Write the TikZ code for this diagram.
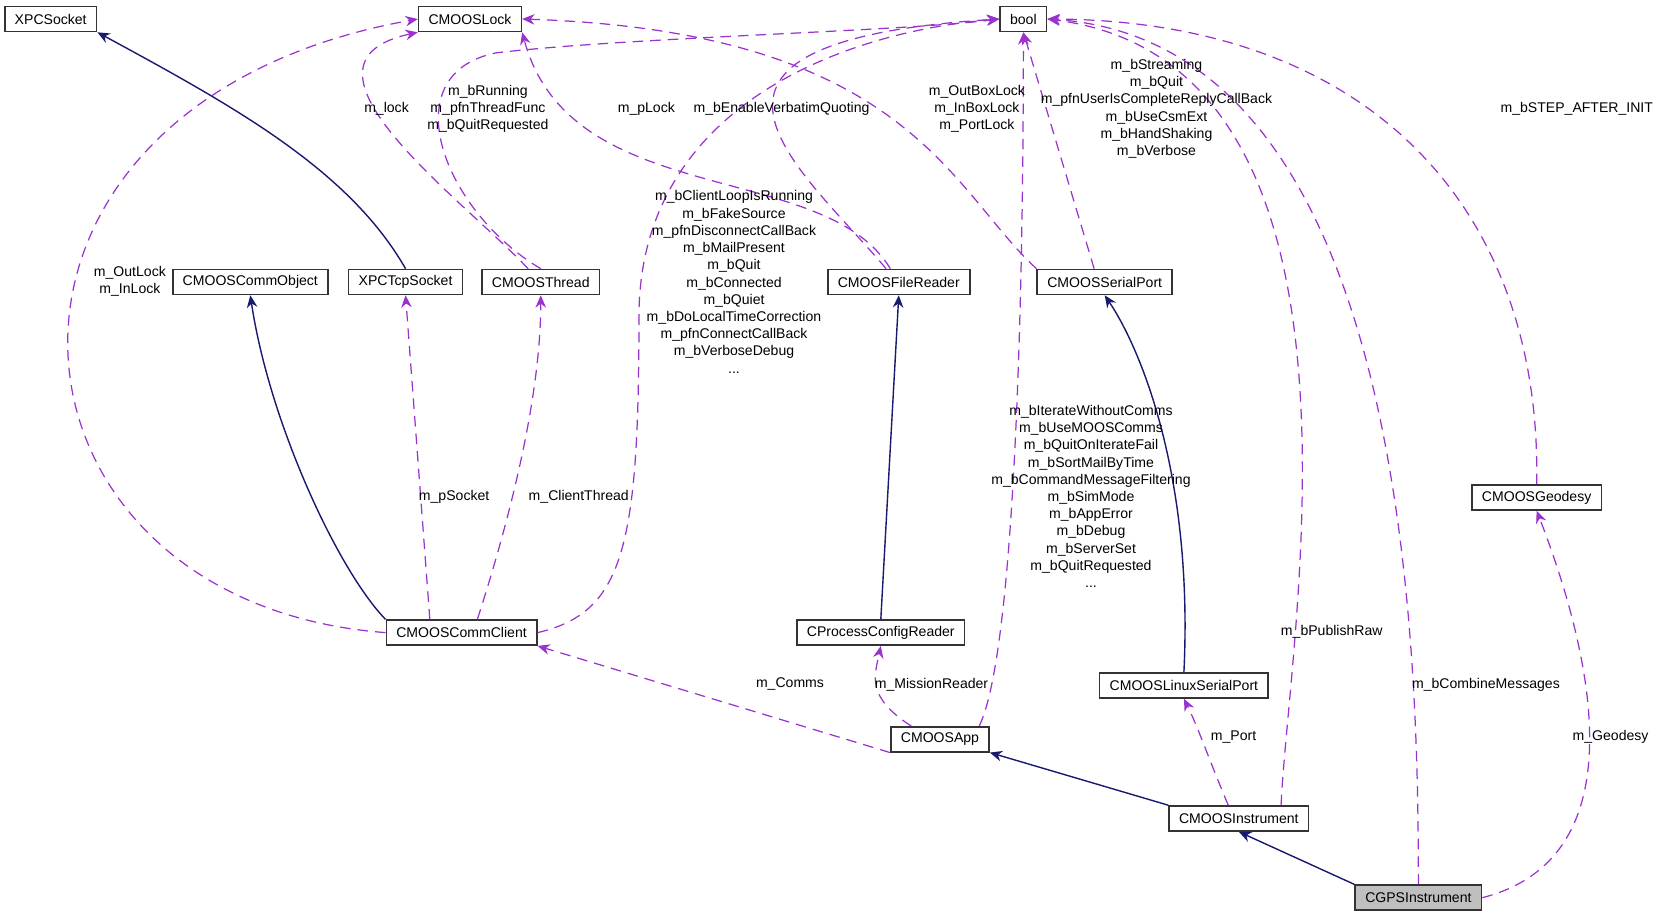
\documentclass[tikz,border=0pt]{standalone}
\usepackage{fontspec}
\setmainfont{Liberation Sans}
\usetikzlibrary{arrows.meta,positioning}
\definecolor{usecol}{HTML}{9A32CD}
\definecolor{inhcol}{HTML}{191970}
\tikzset{
  cls/.style={draw=black!80,line width=0.9pt,fill=white,minimum height=0.5cm,inner xsep=0.2cm,font=\fontsize{8}{9.8}\selectfont},
  use/.style={draw=usecol,dashed,dash pattern=on 6pt off 4pt,line width=0.7pt,-{Stealth[length=7pt,width=6pt,fill=usecol]}},
  inh/.style={draw=inhcol,line width=0.8pt,-{Stealth[length=7pt,width=6pt,fill=inhcol]}},
  lbl/.style={align=center,font=\fontsize{8}{9.8}\selectfont,inner sep=0pt},
}
\begin{document}
\begin{tikzpicture}[x=0.02112cm,y=-0.02112cm]
\useasboundingbox (0,0) rectangle (1568,871);

% classes
\node[cls] (xpcsock) at (48,18) {XPCSocket};
\node[cls] (lock) at (445,18) {CMOOSLock};
\node[cls] (bool) at (969,18) {bool};
\node[cls] (commobj) at (237,267) {CMOOSCommObject};
\node[cls] (tcpsock) at (384,267) {XPCTcpSocket};
\node[cls] (thread) at (512,267) {CMOOSThread};
\node[cls] (filereader) at (851,267) {CMOOSFileReader};
\node[cls] (serial) at (1046,267) {CMOOSSerialPort};
\node[cls] (geodesy) at (1455,471) {CMOOSGeodesy};
\node[cls] (commclient) at (437,599) {CMOOSCommClient};
\node[cls] (configreader) at (834,599) {CProcessConfigReader};
\node[cls] (linuxserial) at (1121,649) {CMOOSLinuxSerialPort};
\node[cls] (app) at (890,700) {CMOOSApp};
\node[cls] (instrument) at (1173,775) {CMOOSInstrument};
\node[cls,fill=black!25] (gps) at (1343,850) {CGPSInstrument};

% inheritance
\draw[inh] (tcpsock.north) .. controls (330,160) and (220,100) .. (xpcsock.south east);
\draw[inh] (commclient.north west) .. controls (320,540) and (255,400) .. (commobj.south);
\draw[inh] (configreader.north) -- (filereader.south);
\draw[inh] (linuxserial.north) .. controls (1130,450) and (1080,330) .. (serial.south);
\draw[inh] (instrument.north west) -- (app.south east);
\draw[inh] (gps.north west) -- (instrument.south);

% usage
\draw[use] (commclient.west) .. controls (-20,570) and (-60,100) .. (lock.west);
\draw[use] (commclient.north) ++(-30,0) -- (tcpsock.south);
\draw[use] (commclient.north) ++(15,0) .. controls (480,500) and (512,380) .. (thread.south);
\draw[use] (commclient.east) .. controls (590,580) and (605,520) .. (605,300)
  .. controls (605,100) and (800,30) .. (bool.west);
\draw[use] (thread.north) ++(-12,0) .. controls (440,190) and (260,60) .. (lock.south west);
\draw[use] (thread.north) .. controls (420,200) and (370,70) .. (470,50)
  .. controls (600,35) and (850,30) .. (bool.west);
\draw[use] (filereader.north) ++(-8,0) .. controls (780,150) and (540,200) .. (lock.south east);
\draw[use] (filereader.north) ++(-12,0) .. controls (760,160) and (600,40) .. (bool.west);
\draw[use] (serial.north west) .. controls (900,180) and (860,30) .. (lock.east);
\draw[use] (serial.north) ++(-10,0) -- (bool.south);
\draw[use] (app.south west) -- (commclient.south east);
\draw[use] (app.north west) ++(20,0) .. controls (820,660) and (828,640) .. (configreader.south);
\draw[use] (app.north east) ++(-10,0) .. controls (960,620) and (969,300) .. (bool.south);
\draw[use] (instrument.north) ++(-10,0) .. controls (1145,720) and (1135,690) .. (linuxserial.south);
\draw[use] (instrument.north) ++(40,0) .. controls (1220,600) and (1320,60) .. (bool.east);
\draw[use] (gps.north) .. controls (1343,600) and (1330,40) .. (bool.east);
\draw[use] (gps.east) .. controls (1560,810) and (1500,600) .. (geodesy.south);
\draw[use] (geodesy.north) .. controls (1460,200) and (1300,20) .. (bool.east);

% labels
\node[lbl] (lOutLock) at (123,266) {m\_OutLock\\m\_InLock};
\node[lbl] (lSocket) at (430,470) {m\_pSocket};
\node[lbl] (lClientThread) at (548,470) {m\_ClientThread};
\node[lbl] (lClientFlags) at (695,267) {m\_bClientLoopIsRunning\\m\_bFakeSource\\m\_pfnDisconnectCallBack\\m\_bMailPresent\\m\_bQuit\\m\_bConnected\\m\_bQuiet\\m\_bDoLocalTimeCorrection\\m\_pfnConnectCallBack\\m\_bVerboseDebug\\...};
\node[lbl] (lLock) at (366,103) {m\_lock};
\node[lbl] (lThreadFlags) at (462,103) {m\_bRunning\\m\_pfnThreadFunc\\m\_bQuitRequested};
\node[lbl] (lPLock) at (612,103) {m\_pLock};
\node[lbl] (lVerbatim) at (740,103) {m\_bEnableVerbatimQuoting};
\node[lbl] (lBoxLock) at (925,103) {m\_OutBoxLock\\m\_InBoxLock\\m\_PortLock};
\node[lbl] (lSerialFlags) at (1095,103) {m\_bStreaming\\m\_bQuit\\m\_pfnUserIsCompleteReplyCallBack\\m\_bUseCsmExt\\m\_bHandShaking\\m\_bVerbose};
\node[lbl] (lStep) at (1493,103) {m\_bSTEP\_AFTER\_INIT};
\node[lbl] (lAppFlags) at (1033,470) {m\_bIterateWithoutComms\\m\_bUseMOOSComms\\m\_bQuitOnIterateFail\\m\_bSortMailByTime\\m\_bCommandMessageFiltering\\m\_bSimMode\\m\_bAppError\\m\_bDebug\\m\_bServerSet\\m\_bQuitRequested\\...};
\node[lbl] (lComms) at (748,648) {m\_Comms};
\node[lbl] (lMission) at (882,648) {m\_MissionReader};
\node[lbl] (lPublishRaw) at (1261,598) {m\_bPublishRaw};
\node[lbl] (lCombine) at (1407,648) {m\_bCombineMessages};
\node[lbl] (lPort) at (1168,698) {m\_Port};
\node[lbl] (lGeodesy) at (1525,698) {m\_Geodesy};
\end{tikzpicture}
\end{document}
